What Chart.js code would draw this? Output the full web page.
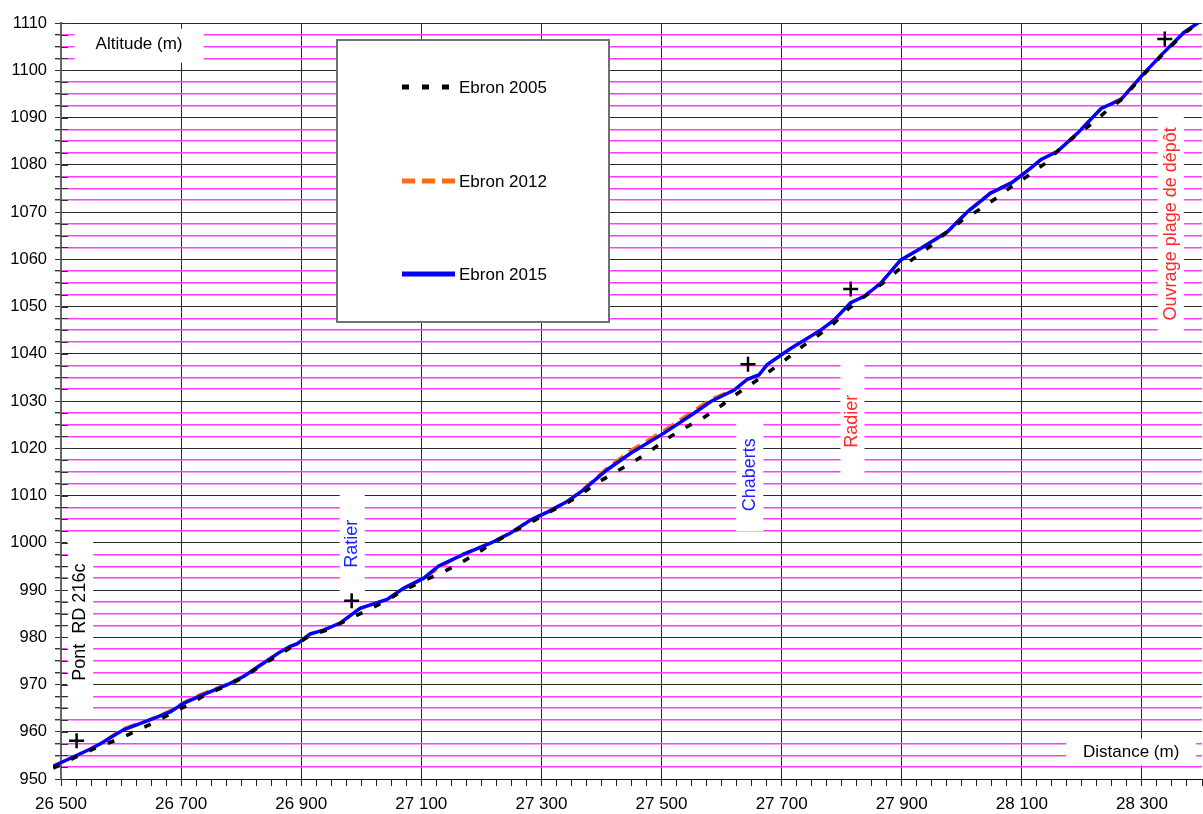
<!DOCTYPE html>
<html>
<head>
<meta charset="utf-8">
<script src="https://cdn.jsdelivr.net/npm/chart.js@4/dist/chart.umd.min.js"></script>
<style>
  html, body { margin: 0; padding: 0; background: #fff; }
  canvas { display: block; }
</style>
</head>
<body>
<canvas id="profile" width="1203" height="814"></canvas>
<script>
// Long profile of the Ebron torrent bed: distance (m) against altitude (m)
const seriesNames = ['Ebron 2005', 'Ebron 2012', 'Ebron 2015'];

const distance2005 = [26487, 26532, 26562, 26593, 26623, 26654, 26684, 26715, 26743, 26776, 26804, 26832, 26862, 26890, 26915, 26940, 26960, 26982, 27012, 27043, 27071, 27101, 27132, 27162, 27193, 27215, 27248, 27279, 27315, 27345, 27370, 27393, 27423, 27454, 27482, 27510, 27537, 27568, 27596, 27623, 27651, 27679, 27707, 27735, 27762, 27787, 27812, 27840, 27867, 27893, 27920, 27948, 27973, 28001, 28029, 28057, 28084, 28112, 28140, 28165, 28190, 28218, 28243, 28268, 28298, 28332, 28370, 28400];
const altitude2005 = [952.3, 955.1, 956.8, 958.3, 960.0, 961.9, 963.9, 965.9, 968.0, 969.7, 971.5, 973.9, 976.2, 978.4, 980.4, 981.4, 982.6, 984.0, 985.8, 987.8, 990.0, 991.8, 993.5, 995.5, 997.8, 999.6, 1002.0, 1004.1, 1006.6, 1008.6, 1010.6, 1012.7, 1014.9, 1017.2, 1019.5, 1022.1, 1024.2, 1026.3, 1028.7, 1031.3, 1033.7, 1036.2, 1038.8, 1041.6, 1044.0, 1046.4, 1049.6, 1052.3, 1054.8, 1057.6, 1060.2, 1062.8, 1065.5, 1068.3, 1070.5, 1072.9, 1075.5, 1077.8, 1080.4, 1083.6, 1086.2, 1088.8, 1091.6, 1094.0, 1098.4, 1103.0, 1107.8, 1110.4];

const distance2012 = [26487, 26548, 26565, 26604, 26648, 26682, 26704, 26732, 26776, 26804, 26837, 26865, 26882, 26893, 26915, 26937, 26965, 26998, 27043, 27071, 27104, 27129, 27171, 27215, 27248, 27282, 27315, 27345, 27370, 27409, 27448, 27504, 27554, 27582, 27621, 27643, 27662, 27676, 27715, 27765, 27787, 27815, 27837, 27865, 27898, 27937, 27976, 28010, 28048, 28082, 28104, 28132, 28159, 28193, 28232, 28265, 28298, 28332, 28370, 28400];
const altitude2012 = [952.8, 956.2, 957.5, 960.7, 962.6, 964.5, 966.2, 967.9, 970.1, 971.8, 974.6, 977.0, 978.1, 978.7, 980.7, 981.5, 983.1, 986.1, 988.0, 990.4, 992.4, 994.6, 997.7, 1000.0, 1002.1, 1004.9, 1006.9, 1009.0, 1011.4, 1015.8, 1019.5, 1023.8, 1028.0, 1030.4, 1032.4, 1034.6, 1035.5, 1037.7, 1041.1, 1045.0, 1047.1, 1050.8, 1052.2, 1055.0, 1059.8, 1062.8, 1065.9, 1070.2, 1074.1, 1076.2, 1078.3, 1081.1, 1082.9, 1086.8, 1091.9, 1094.0, 1098.6, 1103.2, 1108.0, 1110.6];

const distance2015 = [26487, 26548, 26565, 26604, 26648, 26682, 26704, 26732, 26776, 26804, 26837, 26865, 26882, 26893, 26915, 26937, 26965, 26998, 27043, 27071, 27104, 27129, 27171, 27215, 27248, 27282, 27315, 27345, 27370, 27409, 27448, 27504, 27554, 27582, 27621, 27643, 27662, 27676, 27715, 27765, 27787, 27815, 27837, 27865, 27898, 27937, 27976, 28010, 28048, 28082, 28104, 28132, 28159, 28193, 28232, 28265, 28298, 28332, 28370, 28400];
const altitude2015 = [952.7, 956.3, 957.4, 960.4, 962.5, 964.2, 966.0, 967.6, 969.9, 971.7, 974.5, 976.9, 978.1, 978.6, 980.7, 981.5, 983.0, 986.1, 988.0, 990.4, 992.5, 995.1, 997.6, 999.9, 1002.0, 1004.8, 1006.8, 1008.9, 1011.2, 1015.4, 1018.9, 1023.2, 1027.4, 1029.9, 1032.3, 1034.6, 1035.5, 1037.7, 1041.1, 1045.0, 1047.1, 1050.8, 1052.1, 1054.9, 1059.8, 1062.7, 1065.8, 1070.1, 1074.0, 1076.1, 1078.2, 1081.1, 1082.8, 1086.7, 1091.9, 1093.8, 1098.6, 1103.2, 1108.0, 1110.6];

// Surveyed reference points (crosses)
const markDistance = [26526, 26984, 27644, 27815, 28338];
const markAltitude = [958.1, 987.7, 1037.8, 1053.7, 1106.6];

// Axis labelling
const distanceLabels = [26500, 26700, 26900, 27100, 27300, 27500, 27700, 27900, 28100, 28300];
const altitudeLabels = [950, 960, 970, 980, 990, 1000, 1010, 1020, 1030, 1040, 1050, 1060, 1070, 1080, 1090, 1100, 1110];

// Site names written along the profile
const siteNames = ['Pont  RD 216c', 'Ratier', 'Chaberts', 'Radier', 'Ouvrage plage de dépôt'];
const siteDistance = [26532, 26985, 27647, 27818, 28348];
const siteAltitude = [983.2, 999.8, 1014.4, 1025.7, 1067.5];

const FONT = "'Liberation Sans', Arial, sans-serif";
const BLUE_TEXT = '#1f1fff';
const RED_TEXT = '#ff2b2b';

const siteStyles = [
  { color: '#000000', w: 26, h: 179, dy: 2 },
  { color: BLUE_TEXT, w: 25, h: 107, dy: -1 },
  { color: BLUE_TEXT, w: 27, h: 113, dy: 0 },
  { color: RED_TEXT,  w: 24, h: 118, dy: -3 },
  { color: RED_TEXT,  w: 26, h: 224, dy: 0 }
];

const axisTitles = [
  { text: 'Altitude (m)', x: 26630, y: 1105.4, w: 129, h: 34, dy: 1 },
  { text: 'Distance (m)', x: 28282, y: 955.7, w: 130, h: 27, dy: 0 }
];

const pts = (xs, ys) => xs.map((v, i) => ({ x: v, y: ys[i] }));
const fmt = v => String(v).replace(/\B(?=(\d{3})+(?!\d))/g, ' ');

const X_MIN = 26500, X_MAX = 28400, Y_MIN = 950, Y_MAX = 1110;

const lineStyles = [
  { color: '#000000', width: 3.5, dash: [7, 13] },
  { color: '#ff6a13', width: 3, dash: [13, 7] },
  { color: '#0000ff', width: 3.5, dash: [] }
];

const overlay = {
  id: 'overlay',
  beforeDatasetsDraw(chart) {
    const { ctx, scales: { x, y }, chartArea } = chart;
    ctx.save();

    // white label boxes sitting on the grid
    ctx.fillStyle = '#ffffff';
    siteNames.forEach((name, i) => {
      const s = siteStyles[i];
      const cx = x.getPixelForValue(siteDistance[i]);
      const cy = y.getPixelForValue(siteAltitude[i]);
      ctx.fillRect(cx - s.w / 2, cy - s.h / 2 + s.dy, s.w, s.h);
    });
    axisTitles.forEach(t => {
      const cx = x.getPixelForValue(t.x);
      const cy = y.getPixelForValue(t.y);
      ctx.fillRect(cx - t.w / 2, cy - t.h / 2 + t.dy, t.w, t.h);
    });

    // tick stubs on the inner side of the altitude axis
    ctx.strokeStyle = '#333';
    ctx.lineWidth = 1;
    y.ticks.forEach(t => {
      const py = Math.round(y.getPixelForValue(t.value)) + 0.5;
      ctx.beginPath();
      ctx.moveTo(chartArea.left, py);
      ctx.lineTo(chartArea.left + 7, py);
      ctx.stroke();
    });

    // site names, written bottom to top
    ctx.textAlign = 'center';
    ctx.textBaseline = 'middle';
    ctx.font = '18px ' + FONT;
    siteNames.forEach((name, i) => {
      const cx = x.getPixelForValue(siteDistance[i]);
      const cy = y.getPixelForValue(siteAltitude[i]);
      ctx.save();
      ctx.translate(cx, cy);
      ctx.rotate(-Math.PI / 2);
      ctx.fillStyle = siteStyles[i].color;
      ctx.fillText(name, 0, 0);
      ctx.restore();
    });

    ctx.font = '17px ' + FONT;
    ctx.fillStyle = '#000';
    axisTitles.forEach(t => {
      ctx.fillText(t.text, x.getPixelForValue(t.x), y.getPixelForValue(t.y));
    });

    // legend panel
    const lx = 337, ly = 40, lw = 272, lh = 282;
    ctx.fillStyle = '#fff';
    ctx.fillRect(lx, ly, lw, lh);
    ctx.strokeStyle = '#707070';
    ctx.lineWidth = 2;
    ctx.strokeRect(lx, ly, lw, lh);
    const rows = [87, 181, 274];
    ctx.textAlign = 'left';
    ctx.font = '17px ' + FONT;
    seriesNames.forEach((name, i) => {
      const st = lineStyles[i];
      ctx.save();
      ctx.strokeStyle = st.color;
      ctx.lineWidth = 5;
      ctx.lineCap = 'butt';
      ctx.setLineDash(st.dash);
      ctx.beginPath();
      ctx.moveTo(402, rows[i]);
      ctx.lineTo(455, rows[i]);
      ctx.stroke();
      ctx.restore();
      ctx.fillStyle = '#000';
      ctx.fillText(name, 459, rows[i] + 1);
    });

    ctx.restore();
  }
};

const series = [
  [distance2005, altitude2005],
  [distance2012, altitude2012],
  [distance2015, altitude2015]
];

const datasets = [
  {
    label: 'Repères',
    data: pts(markDistance, markAltitude),
    showLine: false,
    pointStyle: 'cross',
    pointRadius: 7.5,
    pointBorderWidth: 2.5,
    pointBorderColor: '#000',
    pointBackgroundColor: '#000',
    order: 0
  }
];
// 2005 is drawn above 2015, 2012 sits underneath
const drawOrder = [1, 3, 2];
series.forEach(([xs, ys], i) => {
  const st = lineStyles[i];
  datasets.push({
    label: seriesNames[i],
    data: pts(xs, ys),
    borderColor: st.color,
    borderWidth: st.width,
    borderDash: st.dash,
    borderCapStyle: 'butt',
    pointRadius: 0,
    tension: 0,
    fill: false,
    order: drawOrder[i],
    clip: { left: 8, top: 0, right: 0, bottom: 0 }
  });
});

const magenta = '#ff3cff';
const dark = '#2a2a2a';

new Chart(document.getElementById('profile'), {
  type: 'line',
  data: { datasets },
  plugins: [overlay],
  options: {
    responsive: false,
    devicePixelRatio: 1,
    animation: false,
    layout: { autoPadding: false, padding: { top: 23, right: 1, left: 0, bottom: 0 } },
    plugins: { legend: { display: false }, tooltip: { enabled: false } },
    scales: {
      x: {
        type: 'linear',
        min: X_MIN,
        max: X_MAX,
        afterBuildTicks(scale) {
          const t = [];
          for (let v = X_MIN; v <= X_MAX; v += 25) t.push({ value: v });
          scale.ticks = t;
        },
        afterFit(scale) { scale.height = 35; },
        ticks: {
          autoSkip: false,
          maxRotation: 0,
          minRotation: 0,
          padding: 0,
          color: '#000',
          font: { family: FONT, size: 17, lineHeight: 2.1 },
          callback: v => distanceLabels.includes(v) ? fmt(v) : ''
        },
        grid: {
          drawOnChartArea: true,
          color: ctx => (ctx.tick && distanceLabels.includes(ctx.tick.value) && ctx.tick.value !== X_MIN) ? dark : 'rgba(0,0,0,0)',
          lineWidth: 1,
          tickColor: '#222',
          tickLength: 7
        },
        border: { display: true, color: '#111', width: 1 }
      },
      y: {
        type: 'linear',
        min: Y_MIN,
        max: Y_MAX,
        afterBuildTicks(scale) {
          const t = [];
          for (let v = Y_MIN; v <= Y_MAX + 0.001; v += 2.5) t.push({ value: v });
          scale.ticks = t;
        },
        afterFit(scale) { scale.width = 61; },
        ticks: {
          autoSkip: false,
          padding: 8,
          color: '#000',
          font: { family: FONT, size: 16.5 },
          callback: v => altitudeLabels.includes(v) ? String(v) : ''
        },
        grid: {
          color: ctx => {
            if (!ctx.tick) return magenta;
            return altitudeLabels.includes(ctx.tick.value) ? dark : magenta;
          },
          lineWidth: ctx => (ctx.tick && altitudeLabels.includes(ctx.tick.value)) ? 1 : 1.4,
          tickColor: '#333',
          tickLength: 6
        },
        border: { display: true, color: '#666', width: 2 }
      }
    }
  }
});
</script>
</body>
</html>
